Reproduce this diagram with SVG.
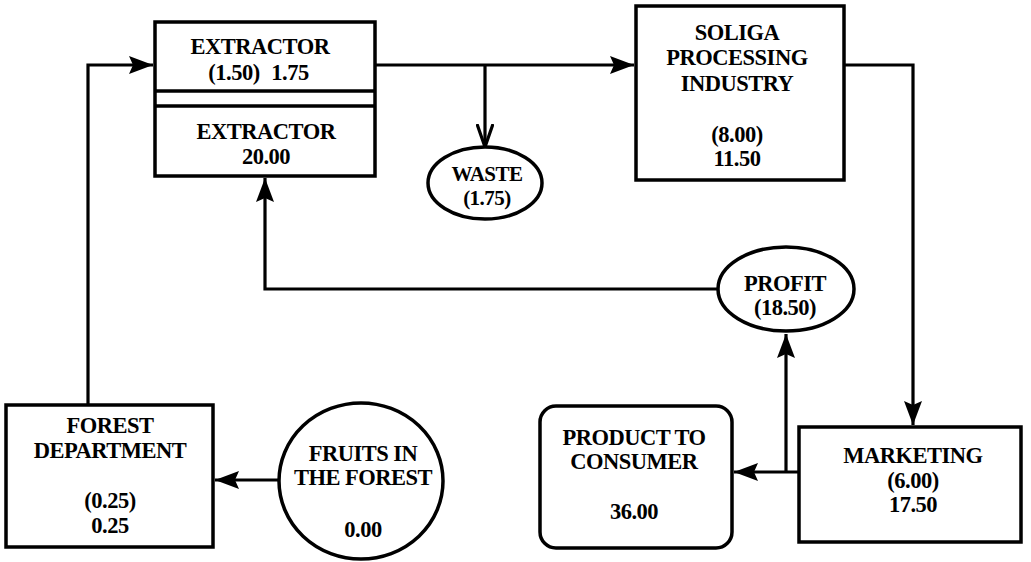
<svg xmlns="http://www.w3.org/2000/svg" width="1031" height="562" viewBox="0 0 1031 562">
<defs>
<style>
.box{fill:#fff;stroke:#000;stroke-width:3.5}
.ln{fill:none;stroke:#000;stroke-width:3.2}
text{font-family:"Liberation Serif","Times New Roman",serif;font-weight:bold;font-size:22.5px;fill:#000;text-anchor:middle;letter-spacing:-0.5px}
.sm{font-size:21px}
</style>
<marker id="ah" viewBox="0 0 24 20" refX="24" refY="10" markerWidth="24" markerHeight="20" markerUnits="userSpaceOnUse" orient="auto">
<path d="M0,1 L24,10 L0,19 L4,10 Z" fill="#000"/>
</marker>
<marker id="av" viewBox="0 0 24 18" refX="23" refY="9" markerWidth="24" markerHeight="18" markerUnits="userSpaceOnUse" orient="auto">
<path d="M0,1 L23,9 L0,17" fill="none" stroke="#000" stroke-width="3.2"/>
</marker>
</defs>
<rect width="1031" height="562" fill="#fff"/>
<g id="connectors">
<path class="ln" d="M88,405 V65 H153" marker-end="url(#ah)"/>
<path class="ln" d="M375,65 H634" marker-end="url(#ah)"/>
<path class="ln" d="M485,65 V147" marker-end="url(#av)"/>
<path class="ln" d="M844,65 H913 V425" marker-end="url(#ah)"/>
<path class="ln" d="M717,289 H265 V178" marker-end="url(#ah)"/>
<path class="ln" d="M786,472 V334" marker-end="url(#ah)"/>
<path class="ln" d="M799,472 H734" marker-end="url(#ah)"/>
<path class="ln" d="M280,480 H215" marker-end="url(#ah)"/>
</g>
<g id="extractor">
<rect class="box" x="155" y="22" width="220" height="154"/>
<line class="box" x1="155" y1="91" x2="375" y2="91"/>
<line class="box" x1="155" y1="106" x2="375" y2="106"/>
<text x="260" y="54">EXTRACTOR</text>
<text x="234" y="80">(1.50)</text>
<text x="290" y="80">1.75</text>
<text x="266" y="139">EXTRACTOR</text>
<text x="266" y="164">20.00</text>
</g>
<g id="soliga">
<rect class="box" x="636" y="6" width="208" height="174"/>
<text x="737" y="40">SOLIGA</text>
<text x="737" y="65">PROCESSING</text>
<text x="737" y="91">INDUSTRY</text>
<text x="737" y="142">(8.00)</text>
<text x="737" y="166">11.50</text>
</g>
<g id="waste">
<ellipse class="box" cx="485" cy="183" rx="57" ry="36"/>
<text class="sm" x="487" y="181">WASTE</text>
<text class="sm" x="487" y="205">(1.75)</text>
</g>
<g id="profit">
<ellipse class="box" cx="786" cy="289" rx="68" ry="42"/>
<text x="785" y="291">PROFIT</text>
<text x="785" y="315">(18.50)</text>
</g>
<g id="marketing">
<rect class="box" x="799" y="427" width="222" height="115"/>
<text x="913" y="463">MARKETING</text>
<text x="913" y="488">(6.00)</text>
<text x="913" y="512">17.50</text>
</g>
<g id="product">
<rect class="box" x="540" y="406" width="192" height="142" rx="16"/>
<text x="634" y="445">PRODUCT TO</text>
<text x="634" y="469">CONSUMER</text>
<text x="634" y="519">36.00</text>
</g>
<g id="forest">
<rect class="box" x="6" y="405" width="207" height="142"/>
<text x="110" y="433">FOREST</text>
<text x="110" y="458">DEPARTMENT</text>
<text x="110" y="508">(0.25)</text>
<text x="110" y="533">0.25</text>
</g>
<g id="fruits">
<ellipse class="box" cx="361" cy="481" rx="82" ry="78"/>
<text x="363" y="461">FRUITS IN</text>
<text x="363" y="485">THE FOREST</text>
<text x="363" y="537">0.00</text>
</g>
</svg>
